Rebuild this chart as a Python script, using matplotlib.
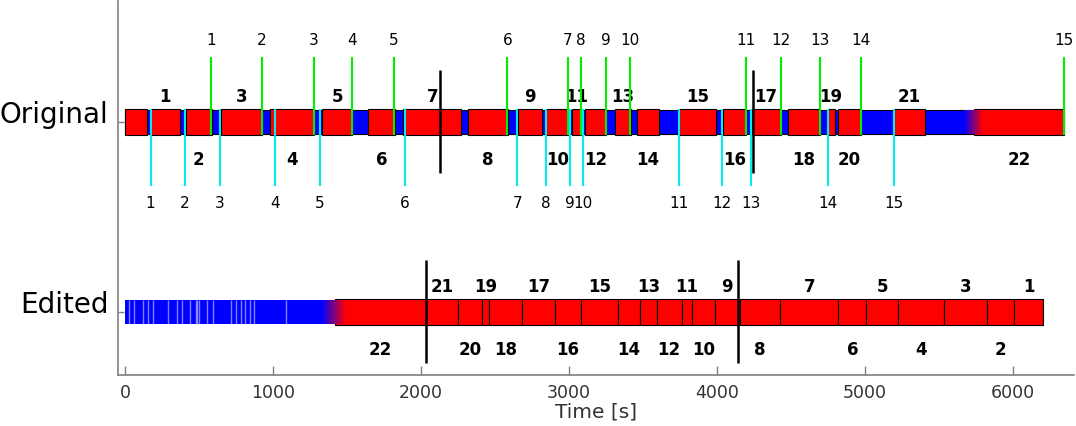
import numpy as np
import matplotlib
matplotlib.use("Agg")
import matplotlib.pyplot as plt
from matplotlib.colors import LinearSegmentedColormap

# -------------------------------
# DATA (seconds)
# -------------------------------
# original recording: red sections (first one has no number), blue = gaps
orig_starts = [0, 170, 409, 645, 976, 1326, 1643, 1877, 2316, 2654, 2846, 3019,
               3105, 3307, 3461, 3742, 4039, 4231, 4478, 4749, 4816, 5193, 5740]
orig_ends = [147, 368, 582, 924, 1274, 1535, 1821, 2272, 2586, 2816, 2997, 3082,
             3251, 3416, 3607, 3990, 4197, 4434, 4697, 4794, 4974, 5407, 6348]
orig_labels = [""] + [str(i) for i in range(1, 23)]
orig_total = 6348

# green markers (above) and cyan markers (below)
green_times = [580, 920, 1274, 1532, 1816, 2582, 2992, 3080, 3247, 3411,
               4197, 4434, 4695, 4970, 6348]
cyan_times = [170, 400, 639, 1012, 1316, 1889, 2650, 2841, 3008, 3093,
              3742, 4032, 4231, 4749, 5193]

# black cut markers
orig_cuts = [2125, 4242]
edit_cuts = [2030, 4140]

# edited version: blue part with light stripes, then sections 22 -> 1
edit_bounds = [1418, 2030, 2249, 2414, 2458, 2681, 2904, 3082, 3332, 3478, 3593,
               3760, 3832, 3988, 4152, 4427, 4821, 5008, 5224, 5532, 5825, 6005, 6206]
edit_labels = [str(i) for i in range(22, 0, -1)]
edit_stripes = [26, 59, 120, 154, 188, 289, 346, 384, 436, 474, 485, 499, 549,
                589, 716, 747, 780, 811, 845, 868, 1088]

# blue->red fades
orig_fade = (5672, 5794)
edit_fade = (1326, 1483)

# -------------------------------
# PLOT
# -------------------------------
fig = plt.figure(figsize=(10.76, 4.27), dpi=100)
ax = fig.add_axes([0.1097, 0.1194, 0.888, 0.876])

H = 0.135
yo, ye = 1.0, 0.0
RED = '#ff0000'
BLUE = '#0000ff'

# original track
ax.barh(yo, orig_total, left=0, height=H * 0.92, color=BLUE, edgecolor='black',
        linewidth=0.8, zorder=2)
for s, e, lab in zip(orig_starts, orig_ends, orig_labels):
    ax.barh(yo, e - s, left=s, height=H, color=RED, edgecolor='black',
            linewidth=0.8, zorder=3)
    if lab:
        n = int(lab)
        ypos = yo + 0.137 if n % 2 == 1 else yo - 0.195
        ax.text((s + e) / 2, ypos, lab, ha='center', va='center',
                fontsize=12, fontweight='bold')

# edited track
ax.barh(ye, edit_bounds[0], left=0, height=H * 0.92, color=BLUE, linewidth=0, zorder=2)
ax.vlines(edit_stripes, ye - H * 0.46, ye + H * 0.46, color='white', alpha=0.5,
          linewidth=1.0, zorder=2.5)
for i, lab in enumerate(edit_labels):
    s, e = edit_bounds[i], edit_bounds[i + 1]
    ax.barh(ye, e - s, left=s, height=H, color=RED, edgecolor='black',
            linewidth=0.8, zorder=3)
    n = int(lab)
    ypos = ye + 0.139 if n % 2 == 1 else ye - 0.193
    ax.text((s + e) / 2, ypos, lab, ha='center', va='center',
            fontsize=12, fontweight='bold')

# fades
cmap = LinearSegmentedColormap.from_list('br', [BLUE, RED])
grad = np.linspace(0, 1, 256).reshape(1, -1)
for (a, b), yc in [(orig_fade, yo), (edit_fade, ye)]:
    ax.imshow(grad, cmap=cmap, aspect='auto', extent=[a, b, yc - H * 0.46, yc + H * 0.46],
              zorder=4, interpolation='bilinear')

# green / cyan markers
ax.vlines(green_times, yo - H / 2, 1.342, color='#00ee00', linewidth=1.5, zorder=5)
ax.vlines(cyan_times, 0.664, yo + H / 2, color='#00eeee', linewidth=1.5, zorder=5)
for i, t in enumerate(green_times):
    ax.text(t, 1.435, str(i + 1), ha='center', va='center', fontsize=11)
for i, t in enumerate(cyan_times):
    ax.text(t, 0.574, str(i + 1), ha='center', va='center', fontsize=11)

# cut markers
ax.vlines(orig_cuts, 0.731, 1.274, color='black', linewidth=1.8, zorder=6)
ax.vlines(edit_cuts, -0.267, 0.274, color='black', linewidth=1.8, zorder=6)

# axes styling
ax.set_xlim(-50, 6410)
ax.set_ylim(-0.33, 1.635)
ax.set_yticks([ye, yo])
ax.set_yticklabels(['Edited', 'Original'], fontsize=20, va='baseline')
ax.set_xticks(range(0, 7000, 1000))
ax.tick_params(axis='x', direction='in', length=6.5, width=1, color='#808080',
               labelsize=12.5, labelcolor='#333333', pad=6)
ax.tick_params(axis='y', direction='in', length=4.5, width=1, color='#808080', pad=7)
ax.set_xlabel('Time [s]', fontsize=14.5, color='#333333', labelpad=0)
for side in ['top', 'right']:
    ax.spines[side].set_visible(False)
for side in ['left', 'bottom']:
    ax.spines[side].set_color('#808080')
    ax.spines[side].set_linewidth(1.2)

fig.savefig('out.png', dpi=100)
